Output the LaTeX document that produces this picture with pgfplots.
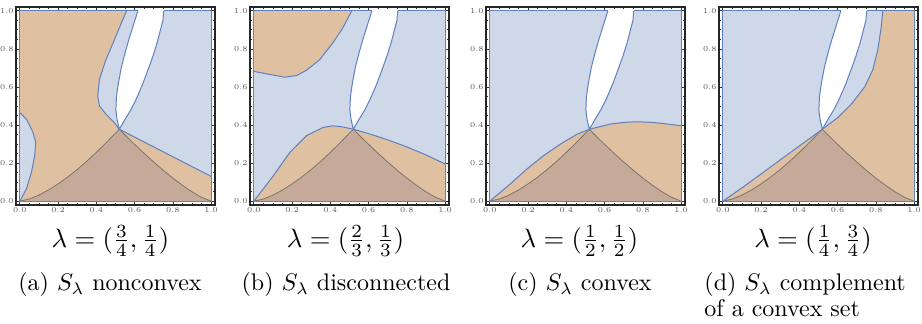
\documentclass[border=0pt]{standalone}
\usepackage{pgfplots}
\pgfplotsset{compat=1.18}
\usepackage{pgfplotstable}
\definecolor{rblue}{RGB}{206,216,233}
\definecolor{rorange}{RGB}{223,192,161}
\definecolor{rdark}{RGB}{197,170,153}
\definecolor{eblue}{RGB}{94,129,191}
\definecolor{egray}{RGB}{125,115,110}

% white (excluded) region: left boundary top->P, right boundary P->top
\pgfplotstableread{
x y
0.617 1.0
0.595 0.93
0.57 0.85
0.55 0.78
0.53 0.70
0.515 0.62
0.505 0.55
0.502 0.48
0.508 0.43
0.52 0.378
0.55 0.43
0.58 0.48
0.61 0.54
0.64 0.61
0.67 0.69
0.695 0.76
0.717 0.83
0.735 0.9
0.748 0.95
0.752 1.0
}\whiteregion

% dark curved triangle
\pgfplotstableread{
x y
0 0
0.05 0.0113
0.1 0.032
0.15 0.0589
0.2 0.0906
0.25 0.1267
0.3 0.1665
0.35 0.2098
0.4 0.2563
0.45 0.3059
0.52 0.378
0.56 0.3373
0.6 0.298
0.65 0.2507
0.7 0.2052
0.75 0.1618
0.8 0.1211
0.85 0.0833
0.9 0.0491
0.95 0.02
1 0
}\darktri

% panel (a): orange region
\pgfplotstableread{
x y
0 1
0.558 1.0
0.537 0.951
0.494 0.847
0.45 0.743
0.416 0.639
0.407 0.552
0.416 0.5
0.45 0.457
0.494 0.413
0.52 0.378
1 0.13
1 0
0 0
0.003 0.005
0.035 0.066
0.061 0.153
0.078 0.24
0.083 0.309
0.069 0.361
0.035 0.43
0 0.465
}\orangeA
\pgfplotstableread{
x y
0.558 1.0
0.537 0.951
0.494 0.847
0.45 0.743
0.416 0.639
0.407 0.552
0.416 0.5
0.45 0.457
0.494 0.413
0.52 0.378
1 0.13
}\edgeAmain
\pgfplotstableread{
x y
0 0
0.003 0.005
0.035 0.066
0.061 0.153
0.078 0.24
0.083 0.309
0.069 0.361
0.035 0.43
0 0.465
}\edgeAbump

% panel (b)
\pgfplotstableread{
x y
0 0.682
0.086 0.665
0.163 0.651
0.223 0.66
0.275 0.6875
0.344 0.743
0.412 0.83
0.464 0.908
0.512 1.0
}\edgeBtop
\pgfplotstableread{
x y
0 0
0.103 0.135
0.189 0.257
0.275 0.344
0.361 0.387
0.412 0.396
0.464 0.39
0.52 0.378
0.6 0.355
0.7 0.322
0.8 0.285
0.9 0.243
1 0.195
}\edgeBbot

% panel (c)
\pgfplotstableread{
x y
0 0
0.108 0.092
0.195 0.17
0.282 0.24
0.369 0.30
0.456 0.352
0.52 0.378
0.63 0.405
0.7 0.414
0.769 0.417
0.85 0.414
0.93 0.405
1 0.396
}\edgeC

% panel (d)
\pgfplotstableread{
x y
0 0
0.1 0.07
0.2 0.143
0.3 0.217
0.4 0.29
0.52 0.378
0.603 0.441
0.672 0.51
0.741 0.6
0.784 0.691
0.81 0.795
0.828 0.917
0.836 1.0
}\edgeD

\pgfplotsset{
  regionaxis/.style={
    scale only axis, width=99.5pt, height=99pt, anchor=north west,
    xmin=-0.02, xmax=1.02, ymin=-0.02, ymax=1.02,
    xtick={0,0.2,0.4,0.6,0.8,1}, ytick={0,0.2,0.4,0.6,0.8,1},
    minor tick num=3,
    tick align=inside, tick pos=both,
    major tick length=2pt, minor tick length=1.1pt,
    every tick/.style={black!80, line width=0.35pt},
    axis line style={black!85, line width=0.6pt},
    tick label style={font=\fontsize{3.8}{4}\selectfont, text=black!65, inner sep=1pt},
    /pgf/number format/fixed, /pgf/number format/fixed zerofill,
    /pgf/number format/precision=1, /pgf/number format/assume math mode=true,
  },
  bluefill/.style={fill=rblue, draw=none},
  orangefill/.style={fill=rorange, draw=none},
  whitefill/.style={fill=white, draw=none},
  darkfill/.style={fill=rdark, draw=none},
  bedge/.style={eblue, line width=0.5pt},
  gedge/.style={egray, line width=0.4pt},
}

\begin{document}
\begin{tikzpicture}
\useasboundingbox (0pt,0pt) rectangle (461pt,-162pt);

% ---------------- (a)
\begin{axis}[regionaxis, at={(8pt,-3.5pt)}]
\addplot[bluefill] coordinates {(0,0) (1,0) (1,1) (0,1)} -- cycle;
\addplot[orangefill] table {\orangeA} -- cycle;
\addplot[whitefill] table {\whiteregion} -- cycle;
\addplot[darkfill] table {\darktri} -- cycle;
\addplot[gedge] table {\darktri};
\addplot[bedge] coordinates {(0.617,1) (0,1) (0,0) (1,0) (1,1) (0.752,1)};
\addplot[bedge] table {\whiteregion};
\addplot[bedge] table {\edgeAmain};
\addplot[bedge] table {\edgeAbump};
\end{axis}

% ---------------- (b)
\begin{axis}[regionaxis, at={(125pt,-3.5pt)}]
\addplot[bluefill] coordinates {(0,0) (1,0) (1,1) (0,1)} -- cycle;
\addplot[orangefill] table {\edgeBtop} -- (axis cs:0,1) -- cycle;
\addplot[orangefill] table {\edgeBbot} -- (axis cs:1,0) -- cycle;
\addplot[whitefill] table {\whiteregion} -- cycle;
\addplot[darkfill] table {\darktri} -- cycle;
\addplot[gedge] table {\darktri};
\addplot[bedge] coordinates {(0.617,1) (0,1) (0,0) (1,0) (1,1) (0.752,1)};
\addplot[bedge] table {\whiteregion};
\addplot[bedge] table {\edgeBtop};
\addplot[bedge] table {\edgeBbot};
\end{axis}

% ---------------- (c)
\begin{axis}[regionaxis, at={(243pt,-3.5pt)}]
\addplot[bluefill] coordinates {(0,0) (1,0) (1,1) (0,1)} -- cycle;
\addplot[orangefill] table {\edgeC} -- (axis cs:1,0) -- cycle;
\addplot[whitefill] table {\whiteregion} -- cycle;
\addplot[darkfill] table {\darktri} -- cycle;
\addplot[gedge] table {\darktri};
\addplot[bedge] coordinates {(0.617,1) (0,1) (0,0) (1,0) (1,1) (0.752,1)};
\addplot[bedge] table {\whiteregion};
\addplot[bedge] table {\edgeC};
\end{axis}

% ---------------- (d)
\begin{axis}[regionaxis, at={(359.5pt,-3.5pt)}]
\addplot[bluefill] coordinates {(0,0) (1,0) (1,1) (0,1)} -- cycle;
\addplot[orangefill] table {\edgeD} -- (axis cs:1,1) -- (axis cs:1,0) -- cycle;
\addplot[whitefill] table {\whiteregion} -- cycle;
\addplot[darkfill] table {\darktri} -- cycle;
\addplot[gedge] table {\darktri};
\addplot[bedge] coordinates {(0.617,1) (0,1) (0,0) (1,0) (1,1) (0.752,1)};
\addplot[bedge] table {\whiteregion};
\addplot[bedge] table {\edgeD};
\end{axis}

% labels
\node[anchor=base, scale=1.33] at (55.2pt,-123.75pt) {$\lambda = (\frac{3}{4}, \frac{1}{4})$};
\node[anchor=base, scale=1.33] at (172.8pt,-123.75pt) {$\lambda = (\frac{2}{3}, \frac{1}{3})$};
\node[anchor=base, scale=1.33] at (289.7pt,-123.75pt) {$\lambda = (\frac{1}{2}, \frac{1}{2})$};
\node[anchor=base, scale=1.33] at (406.5pt,-123.75pt) {$\lambda = (\frac{1}{4}, \frac{3}{4})$};

\node[anchor=base, scale=1.2] at (55pt,-145.5pt) {(a) $S_\lambda$ nonconvex};
\node[anchor=base, scale=1.2] at (173pt,-145.5pt) {(b) $S_\lambda$ disconnected};
\node[anchor=base, scale=1.2] at (290pt,-145.5pt) {(c) $S_\lambda$ convex};
\node[anchor=base west, inner sep=0pt, scale=1.2] at (352pt,-145.5pt) {(d) $S_\lambda$ complement};
\node[anchor=base west, inner sep=0pt, scale=1.2] at (352pt,-158.5pt) {of a convex set};
\end{tikzpicture}
\end{document}
